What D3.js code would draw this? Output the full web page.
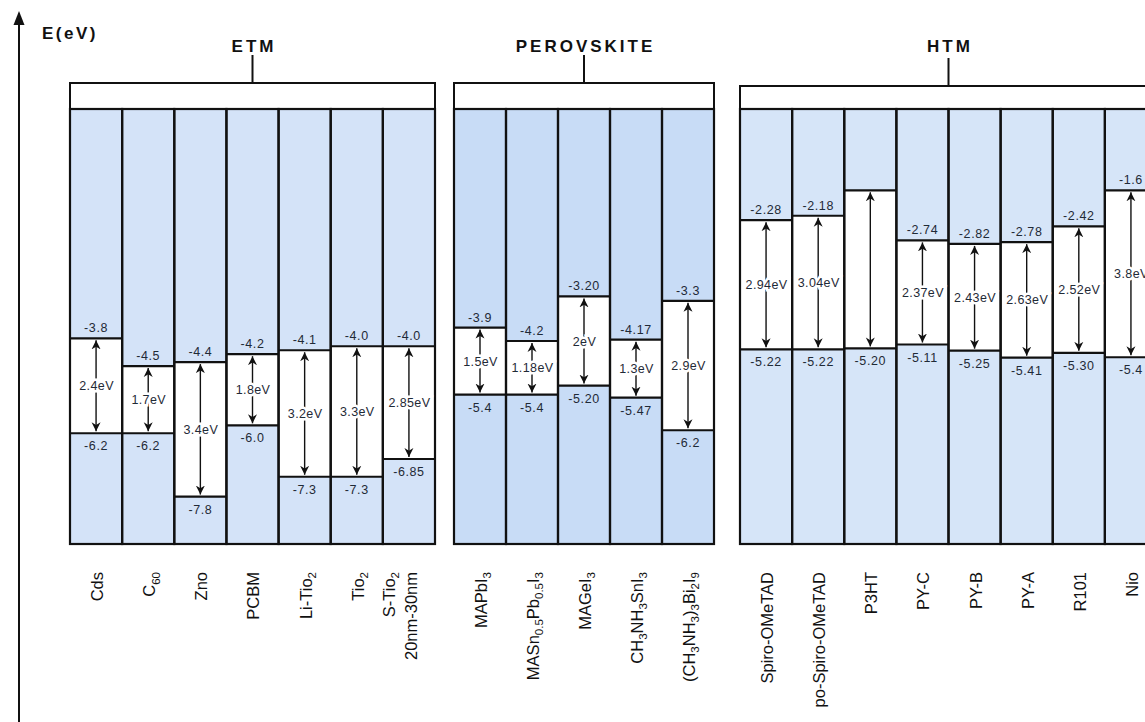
<!DOCTYPE html>
<html>
<head>
<meta charset="utf-8">
<script src="https://cdn.jsdelivr.net/npm/d3@7"></script>
<style>
  body { margin: 0; background: #fff; }
  svg { display: block; }
</style>
</head>
<body>
<svg id="chart" width="1145" height="722"></svg>
<script>
// Band-edge energies (eV). Braces mark subscripts, "|" breaks a name onto a second line.
const etmNames = ["Cds", "C{60}", "Zno", "PCBM", "Li-Tio{2}", "Tio{2}", "S-Tio{2}|20nm-30nm"];
const etmLumo  = ["-3.8", "-4.5", "-4.4", "-4.2", "-4.1", "-4.0", "-4.0"];
const etmHomo  = ["-6.2", "-6.2", "-7.8", "-6.0", "-7.3", "-7.3", "-6.85"];
const etmGap   = ["2.4eV", "1.7eV", "3.4eV", "1.8eV", "3.2eV", "3.3eV", "2.85eV"];

const pvNames = ["MAPbI{3}", "MASn{0.5}Pb{0.5}I{3}", "MAGeI{3}", "CH{3}NH{3}SnI{3}", "(CH{3}NH{3}){3}Bi{2}I{9}"];
const pvLumo  = ["-3.9", "-4.2", "-3.20", "-4.17", "-3.3"];
const pvHomo  = ["-5.4", "-5.4", "-5.20", "-5.47", "-6.2"];
const pvGap   = ["1.5eV", "1.18eV", "2eV", "1.3eV", "2.9eV"];

const htmNames = ["Spiro-OMeTAD", "po-Spiro-OMeTAD", "P3HT", "PY-C", "PY-B", "PY-A", "R101", "Nio"];
const htmLumo  = ["-2.28", "-2.18", "-1.6", "-2.74", "-2.82", "-2.78", "-2.42", "-1.6"];
const htmHomo  = ["-5.22", "-5.22", "-5.20", "-5.11", "-5.25", "-5.41", "-5.30", "-5.4"];
const htmGap   = ["2.94eV", "3.04eV", null, "2.37eV", "2.43eV", "2.63eV", "2.52eV", "3.8eV"];
const htmLumoLabelled = [true, true, false, true, true, true, true, true];

const groupTitles = ["ETM", "PEROVSKITE", "HTM"];

// ---- layout ----
const W = 1145, H = 722;
const colTop = 109, colBottom = 544;
const nameY = 572;
const FONT = "'Liberation Sans', Arial, Helvetica, sans-serif";
const INK = "#111";
const LABEL = "#1f2a36";

const panels = [
  { title: groupTitles[0], names: etmNames, lumo: etmLumo, homo: etmHomo, gap: etmGap,
    labelled: etmNames.map(() => true), x: [70, 435], head: 83, energy: [2.0, -9.0], fill: "#d4e3f8" },
  { title: groupTitles[1], names: pvNames, lumo: pvLumo, homo: pvHomo, gap: pvGap,
    labelled: pvNames.map(() => true), x: [454, 714], head: 83, energy: [1.0, -8.75], fill: "#c8dcf6" },
  { title: groupTitles[2], names: htmNames, lumo: htmLumo, homo: htmHomo, gap: htmGap,
    labelled: htmLumoLabelled, x: [740, 1157], head: 86, energy: [0.25, -9.65], fill: "#d6e5f8" }
];

const svg = d3.select("#chart");

// arrowhead used by the band-gap arrows
svg.append("defs").append("marker")
  .attr("id", "head")
  .attr("viewBox", "0 0 10 10")
  .attr("refX", 10).attr("refY", 5)
  .attr("markerWidth", 9).attr("markerHeight", 10)
  .attr("markerUnits", "userSpaceOnUse")
  .attr("orient", "auto-start-reverse")
  .append("path")
  .attr("d", "M0,0 L10,5 L0,10 L3,5 Z")
  .attr("fill", INK);

// energy axis arrow on the left
svg.append("line")
  .attr("x1", 19).attr("x2", 19)
  .attr("y1", H).attr("y2", 20)
  .attr("stroke", INK).attr("stroke-width", 2);
svg.append("path")
  .attr("d", "M19,11 L13.5,25 L24.5,25 Z")
  .attr("fill", INK);
svg.append("text")
  .attr("x", 42).attr("y", 39)
  .attr("font-family", FONT).attr("font-size", 17).attr("font-weight", "bold")
  .attr("letter-spacing", 2.5)
  .attr("fill", INK)
  .text("E(eV)");

// split "CH{3}NH{3}" into plain/subscript pieces
function pieces(s) {
  const out = [];
  s.replace(/([^{}]+)|\{([^}]*)\}/g, (m, plain, sub) => {
    if (plain !== undefined) out.push({ t: plain, sub: false });
    else out.push({ t: sub, sub: true });
    return m;
  });
  return out;
}

panels.forEach(p => {
  const g = svg.append("g");
  const x = d3.scaleBand().domain(p.names).range(p.x).padding(0);
  const y = d3.scaleLinear().domain(p.energy).range([colTop, colBottom]);
  const cx = d => x(d) + x.bandwidth() / 2;
  const rows = p.names.map((n, i) => ({
    name: n, L: +p.lumo[i], H: +p.homo[i],
    lTxt: p.lumo[i], hTxt: p.homo[i], gap: p.gap[i], showL: p.labelled[i]
  }));
  const mid = (p.x[0] + p.x[1]) / 2;

  // group header: title, stem and bracket box
  g.append("text")
    .attr("x", mid + 1.5).attr("y", 52)
    .attr("text-anchor", "middle")
    .attr("font-family", FONT).attr("font-size", 17).attr("font-weight", "bold")
    .attr("letter-spacing", 3)
    .attr("fill", INK)
    .text(p.title);
  g.append("line")
    .attr("x1", mid).attr("x2", mid)
    .attr("y1", p.head - 28).attr("y2", p.head)
    .attr("stroke", INK).attr("stroke-width", 2);
  g.append("rect")
    .attr("x", p.x[0]).attr("y", p.head)
    .attr("width", p.x[1] - p.x[0]).attr("height", colTop - p.head)
    .attr("fill", "#fff").attr("stroke", INK).attr("stroke-width", 2);

  // column background
  g.selectAll("rect.col").data(rows).join("rect")
    .attr("class", "col")
    .attr("x", d => x(d.name)).attr("y", colTop)
    .attr("width", x.bandwidth()).attr("height", colBottom - colTop)
    .attr("fill", p.fill);

  // forbidden gap between LUMO and HOMO
  g.selectAll("rect.gap").data(rows).join("rect")
    .attr("class", "gap")
    .attr("x", d => x(d.name)).attr("y", d => y(d.L))
    .attr("width", x.bandwidth()).attr("height", d => y(d.H) - y(d.L))
    .attr("fill", "#fff");

  // band edges
  ["L", "H"].forEach(k => {
    g.selectAll("line.edge" + k).data(rows).join("line")
      .attr("class", "edge" + k)
      .attr("x1", d => x(d.name)).attr("x2", d => x(d.name) + x.bandwidth())
      .attr("y1", d => y(d[k])).attr("y2", d => y(d[k]))
      .attr("stroke", INK).attr("stroke-width", 2.2);
  });

  // column outlines
  g.selectAll("rect.outline").data(rows).join("rect")
    .attr("class", "outline")
    .attr("x", d => x(d.name)).attr("y", colTop)
    .attr("width", x.bandwidth()).attr("height", colBottom - colTop)
    .attr("fill", "none").attr("stroke", INK).attr("stroke-width", 2.2);

  // double-headed gap arrows
  g.selectAll("line.arrow").data(rows).join("line")
    .attr("class", "arrow")
    .attr("x1", d => cx(d.name)).attr("x2", d => cx(d.name))
    .attr("y1", d => y(d.L) + 2).attr("y2", d => y(d.H) - 2)
    .attr("stroke", INK).attr("stroke-width", 1.4)
    .attr("marker-start", "url(#head)").attr("marker-end", "url(#head)");

  // gap values
  g.selectAll("text.gapv").data(rows.filter(d => d.gap)).join("text")
    .attr("class", "gapv")
    .attr("x", d => cx(d.name) + 0.5)
    .attr("y", d => (y(d.L) + y(d.H)) / 2 + 4.5)
    .attr("text-anchor", "middle")
    .attr("font-family", FONT).attr("font-size", 12.5)
    .attr("letter-spacing", 0.4)
    .attr("fill", LABEL)
    .attr("stroke", "#fff").attr("stroke-width", 5).attr("paint-order", "stroke")
    .text(d => d.gap);

  // LUMO values (above the edge)
  g.selectAll("text.lv").data(rows.filter(d => d.showL)).join("text")
    .attr("class", "lv")
    .attr("x", d => cx(d.name)).attr("y", d => y(d.L) - 6)
    .attr("text-anchor", "middle")
    .attr("font-family", FONT).attr("font-size", 12.5)
    .attr("letter-spacing", 0.6)
    .attr("fill", LABEL)
    .text(d => d.lTxt);

  // HOMO values (below the edge)
  g.selectAll("text.hv").data(rows).join("text")
    .attr("class", "hv")
    .attr("x", d => cx(d.name)).attr("y", d => y(d.H) + 17)
    .attr("text-anchor", "middle")
    .attr("font-family", FONT).attr("font-size", 12.5)
    .attr("letter-spacing", 0.6)
    .attr("fill", LABEL)
    .text(d => d.hTxt);

  // material names, rotated
  rows.forEach(d => {
    const lines = d.name.split("|");
    const offs = lines.length === 1 ? [1] : [-20, 2];
    lines.forEach((ln, li) => {
      const t = g.append("text")
        .attr("transform", `translate(${cx(d.name) + offs[li]},${nameY}) rotate(-90)`)
        .attr("text-anchor", "end")
        .attr("dy", "0.36em")
        .attr("font-family", FONT).attr("font-size", 16.5)
        .attr("fill", INK);
      let shifted = false;
      pieces(ln).forEach(pc => {
        const ts = t.append("tspan").text(pc.t);
        if (pc.sub) {
          ts.attr("font-size", 11.5);
          if (!shifted) { ts.attr("dy", 4.5); shifted = true; }
        } else if (shifted) {
          ts.attr("dy", -4.5); shifted = false;
        }
      });
    });
  });
});
</script>
</body>
</html>
